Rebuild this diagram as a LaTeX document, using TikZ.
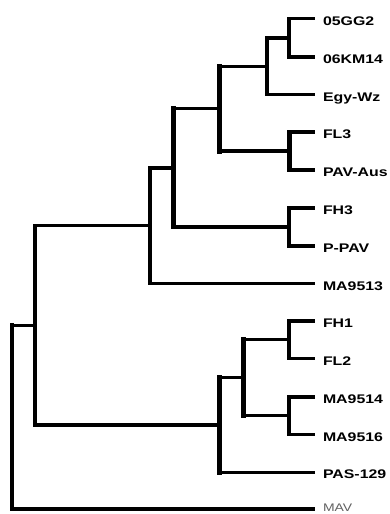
\documentclass[tikz,border=0pt]{standalone}
\usepackage{fontspec}
\usepackage{graphicx}
\setmainfont{Liberation Sans}
\begin{document}
\begin{tikzpicture}[x=1pt,y=-1pt,
  branch/.style={line width=3.4pt,line cap=butt},
  stem/.style={line width=#1,line cap=rect},
  stem/.default=3.8pt,
  taxon/.style={anchor=base west,inner sep=0pt,outer sep=0pt,
    font=\fontsize{12.5}{14}\selectfont\bfseries},
  outgroup/.style={anchor=base west,inner sep=0pt,outer sep=0pt,
    font=\fontsize{11}{13}\selectfont,text=black!62}]
\useasboundingbox (0,0) rectangle (390,514);

% leaf tips
\coordinate (t1)  at (315,18.7);
\coordinate (t2)  at (315,57);
\coordinate (t3)  at (315,94.5);
\coordinate (t4)  at (315,132);
\coordinate (t5)  at (315,170);
\coordinate (t6)  at (315,208);
\coordinate (t7)  at (315,246);
\coordinate (t8)  at (315,283.4);
\coordinate (t9)  at (315,321);
\coordinate (t10) at (315,358.4);
\coordinate (t11) at (315,396.8);
\coordinate (t12) at (315,434.4);
\coordinate (t13) at (315,472.3);
\coordinate (t14) at (315,509);

% internal nodes
\coordinate (nA) at (289.2,37.85);
\coordinate (nB) at (267,66.3);
\coordinate (nC) at (289.4,151);
\coordinate (nD) at (219.8,108.6);
\coordinate (nE) at (289.2,227);
\coordinate (nF) at (173.3,167.8);
\coordinate (nG) at (150.3,225.6);
\coordinate (nH) at (289.2,339.7);
\coordinate (nI) at (289.2,415.6);
\coordinate (nJ) at (243.6,377.6);
\coordinate (nK) at (219.6,425);
\coordinate (nM) at (35,325.3);
\coordinate (nR) at (12.3,417.2);

% horizontal branches
\foreach \p/\c in {nA/t1,nA/t2,nB/nA,nB/t3,nC/t4,nC/t5,nD/nB,nD/nC,
                   nE/t6,nE/t7,nF/nD,nF/nE,nG/nF,nG/t8,
                   nH/t9,nH/t10,nI/t11,nI/t12,nJ/nH,nJ/nI,nK/nJ,nK/t13,
                   nM/nG,nM/nK,nR/nM,nR/t14}
  \draw[branch] (\p |- \c) -- (\c);

% vertical stems
\draw[stem=3.7pt] (nA |- t1) -- (nA |- t2);
\draw[stem=3.7pt] (nB |- nA) -- (nB |- t3);
\draw[stem=4.2pt] (nC |- t4) -- (nC |- t5);
\draw[stem=5.2pt] (nD |- nB) -- (nD |- nC);
\draw[stem=3.7pt] (nE |- t6) -- (nE |- t7);
\draw[stem=4.6pt] (nF |- nD) -- (nF |- nE);
\draw[stem=4pt]   (nG |- nF) -- (nG |- t8);
\draw[stem=3.7pt] (nH |- t9) -- (nH |- t10);
\draw[stem=3.7pt] (nI |- t11) -- (nI |- t12);
\draw[stem=5.2pt] (nJ |- nH) -- (nJ |- nI);
\draw[stem=5pt]   (nK |- nJ) -- (nK |- t13);
\draw[stem=4pt]   (nM |- nG) -- (nM |- nK);
\draw[stem=4pt]   (nR |- nM) -- (nR |- t14);

% taxon labels
\foreach \t/\lab in {t1/05GG2,t2/06KM14,t3/Egy-Wz,t4/FL3,t5/PAV-Aus,
                     t6/FH3,t7/P-PAV,t8/MA9513,t9/FH1,t10/FL2,
                     t11/MA9514,t12/MA9516,t13/PAS-129}
  \node[taxon] (l\t) at ([xshift=8pt,yshift=-6.6pt]\t) {\scalebox{1.27}[1]{\lab}};
\node[outgroup] (lt14) at ([xshift=8pt,yshift=-2pt]t14) {\scalebox{1.27}[1]{MAV}};
\end{tikzpicture}
\end{document}
